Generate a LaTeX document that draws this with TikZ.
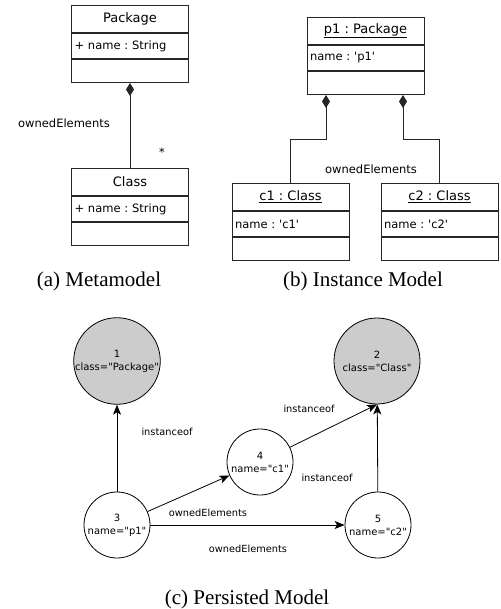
\documentclass[tikz,border=0pt]{standalone}
\usepackage{fontspec}
\setmainfont{Liberation Serif}
\newfontfamily\umlfont{DejaVu Sans}
\usetikzlibrary{positioning,calc,arrows.meta}
\frenchspacing

\tikzset{
	umltitle/.style={draw=black!85, line width=1pt, minimum width=117pt, minimum height=27pt, inner sep=0pt, font=\umlfont\fontsize{13}{15}\selectfont},
	umlattr/.style={draw=black!85, line width=1pt, minimum width=117pt, minimum height=25pt, text width=111pt, inner xsep=3pt, inner ysep=0pt, align=left, font=\umlfont\fontsize{11.5}{13}\selectfont},
	umlops/.style={draw=black!85, line width=1pt, minimum width=117pt, minimum height=23pt, inner sep=0pt},
	umlcomp/.style={draw=black!85, line width=1pt, -{Diamond[length=13pt,width=8pt]}},
	lbl/.style={font=\umlfont\fontsize{11.5}{13}\selectfont, inner sep=0pt},
	pnode/.style={circle, draw=black, line width=0.8pt, inner sep=0pt, align=center, font=\umlfont\fontsize{10}{13}\selectfont},
	metanode/.style={pnode, fill=gray!40, minimum size=86pt},
	objnode/.style={pnode, fill=white, minimum size=66pt},
	parrow/.style={draw=black, line width=0.8pt, -{Stealth[length=10pt,width=8pt,inset=2.5pt]}},
	plbl/.style={font=\umlfont\fontsize{9.8}{12}\selectfont, inner sep=0pt},
	capt/.style={font=\fontsize{21}{24}\selectfont, inner sep=0pt}
}

% name, top centre, title, attribute
\newcommand{\umlclass}[4]{%
	\node[umltitle, anchor=north] (#1-title) at (#2) {#3};
	\node[umlattr, below=0pt of #1-title] (#1-attr) {#4};
	\node[umlops, below=0pt of #1-attr] (#1-ops) {};
}

\begin{document}
\begin{tikzpicture}[x=1pt, y=-1pt]
		\useasboundingbox (0,0) rectangle (500,609);

		% (a) metamodel
		\umlclass{pkg}{130,5}{Package}{+ name : String}
		\umlclass{cls}{130,168}{Class}{+ name : String}
		\draw[umlcomp] (cls-title.north) -- (pkg-ops.south);
		\node[lbl] (meta-role) at (64,123) {ownedElements};
		\node[lbl] (meta-mult) at (162,152) {*};
		\node[capt] (cap-a) at (99,281) {(a) Metamodel};

		% (b) instance model
		\umlclass{p1}{365.5,17}{\underline{p1 : Package}}{name : \textquotesingle p1\textquotesingle}
		\umlclass{c1}{290.5,183}{\underline{c1 : Class}}{name : \textquotesingle c1\textquotesingle}
		\umlclass{c2}{439.5,183}{\underline{c2 : Class}}{name : \textquotesingle c2\textquotesingle}
		\coordinate (p1-left) at ($(p1-ops.south)+(-39.5,0)$);
		\coordinate (p1-right) at ($(p1-ops.south)+(37.5,0)$);
		\draw[umlcomp] (c1-title.north) |- ($(p1-left)+(0,45)$) -- (p1-left);
		\draw[umlcomp] (c2-title.north) |- ($(p1-right)+(0,45)$) -- (p1-right);
		\node[lbl] (inst-role) at (371,169) {ownedElements};
		\node[capt] (cap-b) at (363,281) {(b) Instance Model};

		% (c) persisted model
		\node[metanode] (n1) at (117,361) {1\\class="Package"};
		\node[metanode] (n2) at (377,361) {2\\class="Class"};
		\node[objnode] (n3) at (117,525) {3\\name="p1"};
		\node[objnode] (n4) at (260,462) {4\\name="c1"};
		\node[objnode] (n5) at (378,525) {5\\name="c2"};
		\draw[parrow] (n3) -- (n1);
		\draw[parrow] (n3) -- (n4);
		\draw[parrow] (n3) -- (n5);
		\draw[parrow] (n4) -- (n2.south);
		\draw[parrow] (n5) -- (n2);
		\node[plbl] (l31) at (167,432) {instanceof};
		\node[plbl] (l42) at (309,409) {instanceof};
		\node[plbl] (l52) at (327,478) {instanceof};
		\node[plbl] (l34) at (208,513) {ownedElements};
		\node[plbl] (l35) at (248,549) {ownedElements};
		\node[capt] (cap-c) at (247,599) {(c) Persisted Model};
	\end{tikzpicture}
\end{document}
